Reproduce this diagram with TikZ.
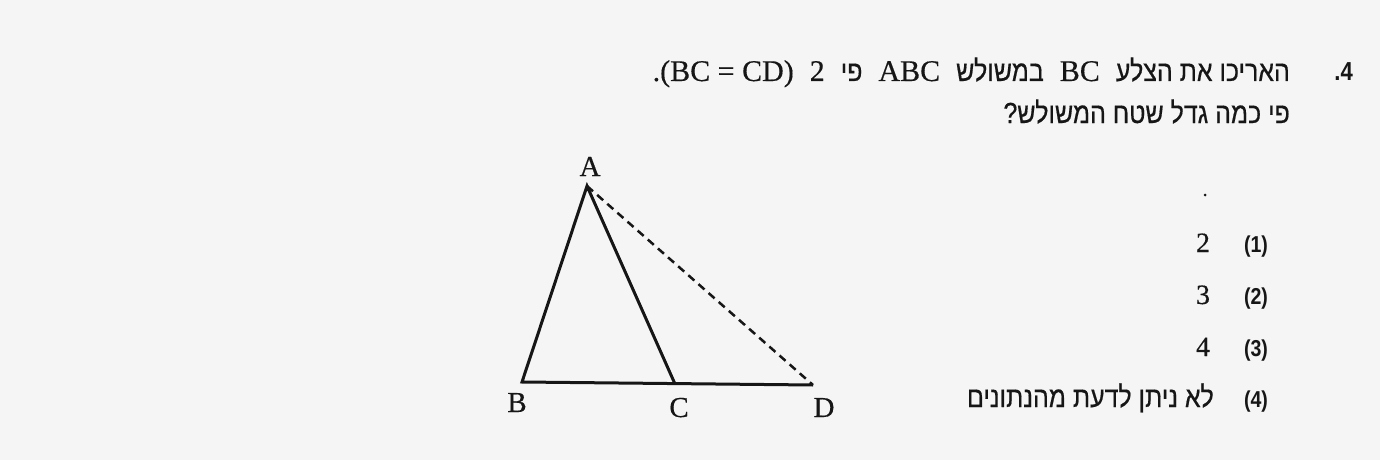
\documentclass[tikz,border=0pt]{standalone}
\usepackage{fontspec}
\setmainfont{Liberation Serif}[FakeBold=0.4]
\newfontfamily\heb[Script=Hebrew, FakeStretch=0.86, FakeBold=0.5]{Liberation Sans}
\newfontfamily\lblfont[FakeStretch=0.85]{Liberation Sans}
\TeXXeTstate=1
\definecolor{paper}{RGB}{246,245,245}
\definecolor{ink}{RGB}{22,22,22}
\newcommand{\gap}{\hspace{16pt}}
\newcommand{\lat}[1]{{\rmfamily\fontsize{30}{32}\selectfont #1}}
\tikzset{
  seg/.style={draw=ink, line width=3pt},
  dashseg/.style={draw=ink, line width=2.5pt, dash pattern=on 8pt off 5.5pt},
  vlabel/.style={inner sep=0pt, font=\fontsize{29}{29}\selectfont, text=ink},
  hebline/.style={inner sep=0pt, text=ink, font=\heb\fontsize{29}{32}\selectfont},
  num/.style={inner sep=0pt, text=ink, font=\fontsize{28}{28}\selectfont},
  optlbl/.style={inner sep=0pt, text=ink, font=\lblfont\bfseries\fontsize{23}{23}\selectfont},
}
\begin{document}
\begin{tikzpicture}[x=1pt,y=-1pt]
\fill[paper] (0,0) rectangle (1380,460);
\useasboundingbox (0,0) rectangle (1380,460);
% question number
\node[inner sep=0pt, anchor=base east, text=ink, font=\lblfont\bfseries\fontsize{26}{26}\selectfont] (qn) at (1353,81) {.4};
% question text
\node[hebline, anchor=base east] (q1) at (1290,81) {\beginR האריכו את הצלע\gap\beginL\lat{BC}\endL\gap במשולש\gap\beginL\lat{ABC}\endL\gap פי\gap\beginL\lat{2}\endL\gap\beginL\lat{(BC = CD)}\endL\lat{.}\endR};
\node[hebline, anchor=base east] (q2) at (1290,123) {\beginR פי כמה גדל שטח המשולש?\endR};
% triangle
\coordinate (A) at (587,186);
\coordinate (B) at (522,382);
\coordinate (C) at (675,384);
\coordinate (D) at (813,385);
\draw[seg, line join=miter] (C) -- (A) -- (B) -- (D);
\draw[dashseg] (A) -- (D);
\node[vlabel, anchor=base] (lA) at (590,176) {A};
\node[vlabel, anchor=base] (lB) at (517,412) {B};
\node[vlabel, anchor=base] (lC) at (679,417) {C};
\node[vlabel, anchor=base] (lD) at (824,417) {D};
% speck
\fill[ink] (1205,195) circle (1.5pt);
% options
\node[num, anchor=base] (n1) at (1203,252) {2};
\node[num, anchor=base] (n2) at (1203,304) {3};
\node[num, anchor=base] (n3) at (1203,356) {4};
\node[hebline, anchor=base east] (n4) at (1214,407) {\beginR לא ניתן לדעת מהנתונים\endR};
\node[optlbl, anchor=base] (o1) at (1256,252) {(1)};
\node[optlbl, anchor=base] (o2) at (1256,304) {(2)};
\node[optlbl, anchor=base] (o3) at (1256,356) {(3)};
\node[optlbl, anchor=base] (o4) at (1256,407) {(4)};
\end{tikzpicture}
\end{document}
